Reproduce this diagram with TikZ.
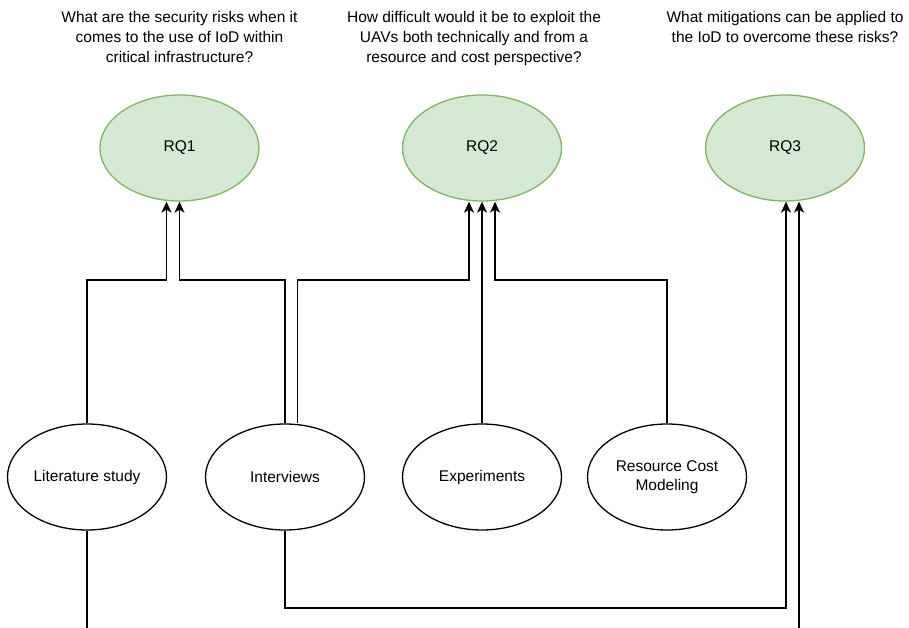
\documentclass[tikz,border=0pt]{standalone}
\usepackage{fontspec}
\setmainfont{Liberation Sans}
\usetikzlibrary{shapes.geometric,arrows.meta}
\definecolor{rqfill}{HTML}{D5E8D4}
\definecolor{rqline}{HTML}{82B366}

\begin{document}
\begin{tikzpicture}[x=1pt,y=1pt,
  every node/.style={font=\fontsize{15.5}{20}\selectfont},
  oval/.style={ellipse, draw=black, line width=1.3pt, minimum width=159pt,
    minimum height=106pt, inner sep=0pt, align=center},
  rq/.style={oval, fill=rqfill, draw=rqline},
  question/.style={align=center, anchor=base, inner sep=0pt},
  link/.style={line width=1.3pt, -{Stealth[length=11pt,width=10pt,inset=3pt]}}]
\useasboundingbox (0,0) rectangle (909,627);

% research questions (anchored on the baseline of their last line)
\node[question] (q1) at (179.5,564.6) {What are the security risks when it\\comes to the use of IoD within\\critical infrastructure?};
\node[question] (q2) at (474,564.6) {How difficult would it be to exploit the\\UAVs both technically and from a\\resource and cost perspective?};
\node[question] (q3) at (785,584.6) {What mitigations can be applied to\\the IoD to overcome these risks?};

\node[rq] (rq1) at (179.5,479) {RQ1};
\node[rq] (rq2) at (482,479) {RQ2};
\node[rq] (rq3) at (785,479) {RQ3};

% research methods
\node[oval] (lit) at (87,150) {Literature study};
\node[oval] (int) at (285,150) {Interviews};
\node[oval] (exp) at (482,150) {Experiments};
\node[oval, font=\fontsize{15.5}{19.5}\selectfont] (rcm) at (667,150) {Resource Cost\\Modeling};

% routing levels
\coordinate (upper) at (0,347);
\coordinate (lower) at (0,19);
\coordinate (below) at (0,-20);

% methods feeding the research questions
\draw[link] (lit.north) -- (lit.north |- upper) -| ([xshift=-13pt]rq1.south);
\draw[link] (int.north) -- (int.north |- upper) -| (rq1.south);
\draw[link] ([xshift=12.5pt]int.north) -- ([xshift=12.5pt]int.north |- upper) -| ([xshift=-13pt]rq2.south);
\draw[link] (exp.north) -- (rq2.south);
\draw[link] (rcm.north) -- (rcm.north |- upper) -| ([xshift=13pt]rq2.south);
\draw[link] (int.south) -- (int.south |- lower) -| ([xshift=1pt]rq3.south);
\draw[link] (lit.south) -- (lit.south |- below) -| ([xshift=14pt]rq3.south);
\end{tikzpicture}
\end{document}
